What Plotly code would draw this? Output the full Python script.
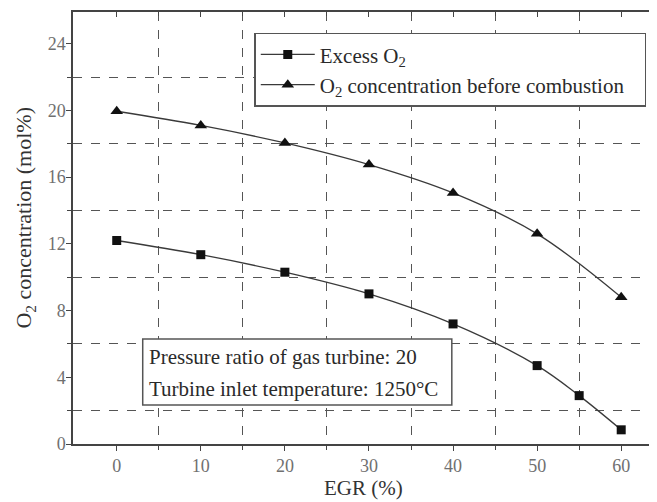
import plotly.graph_objects as go

egr_excess = [0, 10, 20, 30, 40, 50, 55, 60]
excess_o2 = [12.2, 11.35, 10.3, 9.0, 7.2, 4.7, 2.9, 0.85]
egr_before = [0, 10, 20, 30, 40, 50, 60]
o2_before = [19.95, 19.1, 18.05, 16.75, 15.05, 12.6, 8.8]

x_ticks = [0, 10, 20, 30, 40, 50, 60]
y_ticks = [0, 4, 8, 12, 16, 20, 24]
x_minor = [5, 15, 25, 35, 45, 55]
y_minor = [2, 6, 10, 14, 18, 22]

FONT = "Liberation Serif, Times New Roman, serif"
LINE = "#3a3a3a"
GRID = "#555555"

fig = go.Figure()
fig.add_trace(go.Scatter(
    x=egr_excess, y=excess_o2, name="Excess O<sub>2</sub>",
    mode="lines+markers", line=dict(color=LINE, width=1.3, shape="spline"),
    marker=dict(symbol="square", size=9, color="#111111")))
fig.add_trace(go.Scatter(
    x=egr_before, y=o2_before,
    name="O<sub>2</sub> concentration before combustion\u00a0\u00a0\u00a0",
    mode="lines+markers", line=dict(color=LINE, width=1.3, shape="spline"),
    marker=dict(symbol="triangle-up", size=11, color="#111111")))
# helper trace for mirrored inside ticks
fig.add_trace(go.Scatter(x=[None], y=[None], xaxis="x2", yaxis="y2", showlegend=False, hoverinfo="skip"))

xr = [-5.2, 63.9]
yr = [0, 25.9]

# page body has an 8px default margin, so the figure is sized to fit the window
fig.update_layout(
    width=649, height=494,
    margin=dict(l=65, r=1, t=4, b=58),
    paper_bgcolor="white", plot_bgcolor="white",
    font=dict(family=FONT, size=16, color="#333333"),
    showlegend=True,
    legend=dict(x=0.312, y=0.952, xanchor="left", yanchor="top",
                bordercolor="#555555", borderwidth=1.5, bgcolor="white",
                font=dict(family=FONT, size=21, color="#2a2a2a"),
                tracegroupgap=0, itemwidth=54),
    xaxis=dict(range=xr, tickvals=x_ticks, ticks="outside", ticklen=5, tickcolor="#444",
               showgrid=False, zeroline=False, showline=True, linecolor="#444", linewidth=1.5,
               mirror=True,
               minor=dict(tickvals=x_minor, ticks="outside", ticklen=4,
                          showgrid=True, gridcolor=GRID, griddash="dash", gridwidth=1),
               tickfont=dict(size=18, color="#707070")),
    yaxis=dict(range=yr, tickvals=y_ticks, ticks="outside", ticklen=5, tickcolor="#444",
               showgrid=False, zeroline=False, showline=True, linecolor="#444", linewidth=1.5,
               mirror=True, ticklabelstandoff=-3,
               minor=dict(tickvals=y_minor, ticks="outside", ticklen=4,
                          showgrid=True, gridcolor=GRID, griddash="dash", gridwidth=1),
               tickfont=dict(size=18, color="#707070")),
    xaxis2=dict(range=xr, overlaying="x", side="top", tickvals=x_ticks, ticks="inside", ticklen=5,
                tickcolor="#444", showticklabels=False, showgrid=False, zeroline=False,
                minor=dict(tickvals=x_minor, ticks="inside", ticklen=4)),
    yaxis2=dict(range=yr, overlaying="y", side="right", tickvals=y_ticks, ticks="inside", ticklen=5,
                tickcolor="#444", showticklabels=False, showgrid=False, zeroline=False,
                minor=dict(tickvals=y_minor, ticks="inside", ticklen=4)),
)

# axis titles
fig.add_annotation(xref="paper", yref="paper", x=0.5, y=-0.102, xanchor="center", yanchor="middle",
                   text="EGR (%)", showarrow=False, font=dict(family=FONT, size=21, color="#333333"))
fig.add_annotation(xref="paper", yref="paper", x=-0.082, y=0.525, xanchor="center", yanchor="middle",
                   text="O<sub>2</sub> concentration (mol%)", textangle=-90, showarrow=False,
                   font=dict(family=FONT, size=22, color="#333333"))

fig.add_shape(type="rect", xref="paper", yref="paper", x0=0.12, x1=0.652, y0=0.09, y1=0.243,
              line=dict(color="#555555", width=1.5), fillcolor="white", layer="above")
fig.add_annotation(xref="paper", yref="paper", x=0.128, y=0.201, xanchor="left", yanchor="middle",
                   text="Pressure ratio of gas turbine: 20", showarrow=False,
                   font=dict(family=FONT, size=21, color="#2a2a2a"))
fig.add_annotation(xref="paper", yref="paper", x=0.128, y=0.127, xanchor="left", yanchor="middle",
                   text="Turbine inlet temperature: 1250°C", showarrow=False,
                   font=dict(family=FONT, size=21, color="#2a2a2a"))

fig.write_html("out.html")
